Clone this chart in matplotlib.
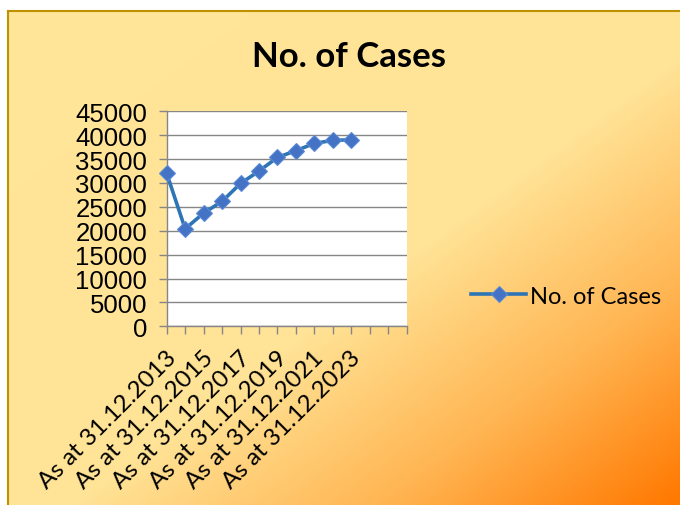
import numpy as np
import matplotlib
matplotlib.use("Agg")
import matplotlib.pyplot as plt
import matplotlib.transforms as mtransforms
from matplotlib.colors import LinearSegmentedColormap
from matplotlib.lines import Line2D

# ---- data ----
years = [2013, 2014, 2015, 2016, 2017, 2018, 2019, 2020, 2021, 2022, 2023]
cases = [32000, 20400, 23700, 26150, 29900, 32500, 35350, 36750, 38300, 38900, 39050]
n_slots = 14  # category slots on the x axis (last ones empty)
label_years = [2013, 2015, 2017, 2019, 2021, 2023]
yticks = [0, 5000, 10000, 15000, 20000, 25000, 30000, 35000, 40000, 45000]
series_name = "No. of Cases"
title = "No. of Cases"

W, H = 680, 506
fig = plt.figure(figsize=(W / 100, H / 100), dpi=100, facecolor="white")

# ---- gradient background panel ----
px0, py0 = 8, 12
bg = fig.add_axes([px0 / W, 0, (W - px0) / W, (H - py0) / H], zorder=0)
gx = np.linspace(0, 1, 300)
gy = np.linspace(0, 1, 300)
GX, GY = np.meshgrid(gx, gy)
T = (GX + GY) / 2.0
cmap = LinearSegmentedColormap.from_list(
    "bg", [(0.0, "#FFE699"), (0.55, "#FFE396"), (0.78, "#FFB552"), (1.0, "#FF7800")])
bg.imshow(T, cmap=cmap, vmin=0, vmax=1, extent=[0, 1, 0, 1], origin="upper", aspect="auto")
bg.set_xlim(0, 1)
bg.set_ylim(0, 1)
bg.axis("off")
fig.add_artist(Line2D([px0 / W, 1], [1 - py0 / H, 1 - py0 / H], color="#BF9000", lw=1.5, zorder=1))
fig.add_artist(Line2D([px0 / W, px0 / W], [0, 1 - py0 / H], color="#BF9000", lw=1.5, zorder=1))

# ---- plot ----
left, right = 166.7 / W, 406.7 / W
top, bottom = 1 - 112.3 / H, 1 - 327.3 / H
ax = fig.add_axes([left, bottom, right - left, top - bottom], zorder=2)
ax.set_facecolor("white")

xs = [years.index(y) for y in years]
line, = ax.plot(xs, cases, color="#2E75B6", lw=2.6, marker="D", markersize=8.5,
                markerfacecolor="#4472C4", markeredgecolor="#5B8BD6", markeredgewidth=0.8,
                clip_on=False, zorder=3)

ax.set_xlim(0, n_slots - 1)
ax.set_ylim(0, 45000)
ax.set_yticks(yticks)
ax.set_yticklabels([str(v) for v in yticks], fontname="Liberation Sans", fontsize=18.5)
ax.yaxis.grid(True, color="#868686", lw=1)
ax.set_axisbelow(True)

ax.set_xticks(range(n_slots))
xt_labels = ["As at 31.12.%d" % years[i] if (i < len(years) and years[i] in label_years) else ""
             for i in range(n_slots)]
ax.set_xticklabels(xt_labels, rotation=45, ha="right", va="center", rotation_mode="anchor",
                   fontname="Lato", fontsize=17.5)
ax.tick_params(axis="x", length=6, width=1, color="#868686", pad=14)
ax.tick_params(axis="y", length=6, width=1, color="#868686", pad=8)
shift = mtransforms.ScaledTranslation(6 / 100, 0, fig.dpi_scale_trans)
for lbl in ax.get_xticklabels():
    lbl.set_transform(lbl.get_transform() + shift)
for s in ["top", "right"]:
    ax.spines[s].set_visible(False)
for s in ["left", "bottom"]:
    ax.spines[s].set_color("#868686")
    ax.spines[s].set_linewidth(1)

fig.text(349 / W, 1 - 57 / H, title, ha="center", va="center", fontname="Lato",
         fontweight="bold", fontsize=25)

leg = fig.legend([line], [series_name], loc="center left",
                 bbox_to_anchor=(462 / W, 1 - 297 / H), frameon=False,
                 prop={"family": "Lato", "size": 17}, handlelength=2.3, numpoints=1,
                 handletextpad=0.2, borderaxespad=0)

fig.savefig("out.png", dpi=100, facecolor="white")
